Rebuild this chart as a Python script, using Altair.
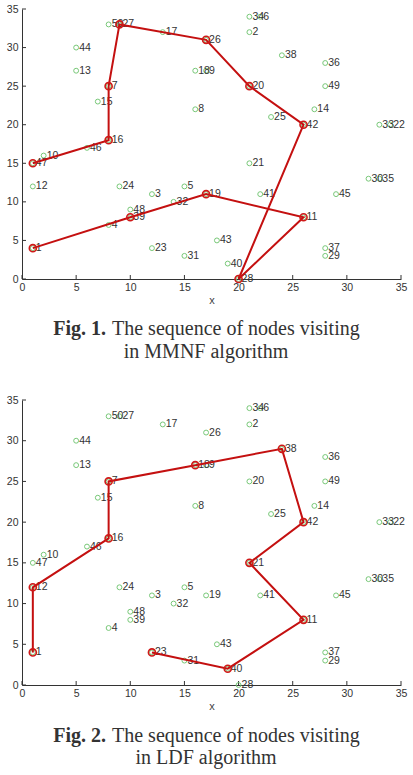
import altair as alt
import pandas as pd

# ---- data ----
node_ids = list(range(1, 51))
node_x = [1, 21, 12, 8, 15, 22, 8, 16, 17, 2,
          26, 1, 5, 27, 7, 8, 13, 16, 17, 21,
          21, 34, 12, 9, 23, 17, 9, 20, 28, 32,
          15, 14, 33, 21, 33, 28, 28, 24, 10, 19,
          22, 26, 18, 5, 29, 6, 1, 10, 28, 8]
node_y = [4, 32, 11, 7, 12, 34, 25, 22, 27, 16,
          8, 12, 27, 22, 23, 18, 32, 27, 11, 25,
          15, 20, 4, 12, 21, 31, 33, 0, 3, 13,
          3, 10, 20, 34, 13, 28, 4, 29, 8, 2,
          11, 20, 5, 30, 11, 17, 15, 9, 25, 33]
path_mmnf = [1, 39, 19, 11, 28, 42, 20, 26, 27, 7, 16, 47]
path_ldf = [1, 12, 16, 7, 18, 38, 42, 21, 11, 40, 23]
tick_values = [0, 5, 10, 15, 20, 25, 30, 35]
cap1_bold = ["Fig. 1."]
cap1_rest = ["The sequence of nodes visiting"]
cap1_line2 = ["in MMNF algorithm"]
cap2_bold = ["Fig. 2."]
cap2_rest = ["The sequence of nodes visiting"]
cap2_line2 = ["in LDF algorithm"]

nodes = pd.DataFrame({"id": node_ids, "x": node_x, "y": node_y,
                      "label": [str(i) for i in node_ids]})
pos = {i: (x, y) for i, x, y in zip(node_ids, node_x, node_y)}


def path_df(p):
    return pd.DataFrame({"order": list(range(len(p))),
                         "x": [pos[i][0] for i in p],
                         "y": [pos[i][1] for i in p]})


W = 379
LABEL_FONT = "Liberation Sans"
SERIF = "Liberation Serif"
GREEN = "#78c878"
RED = "#d01818"
LINE = "#c41010"
CAP = "#333333"


def panel(path, h, bold, rest, line2, cap_y1, cap_y2):
    xs = alt.Scale(domain=[0, 35], nice=False, zero=False)
    ys = alt.Scale(domain=[0, 35], nice=False, zero=False)
    xax = alt.Axis(values=tick_values, ticks=False, grid=False, title="x",
                   titleFontWeight="normal", titleFontSize=11, titleFont=LABEL_FONT,
                   titleColor="#444", titlePadding=2,
                   labelFont=LABEL_FONT, labelFontSize=10.5, labelColor="#333",
                   labelPadding=3, domainColor="#333", labelFlush=False)
    yax = alt.Axis(values=tick_values, ticks=False, grid=False, title=None,
                   labelFont=LABEL_FONT, labelFontSize=10.5, labelColor="#333",
                   labelPadding=4, domainColor="#333", labelFlush=False)
    X = alt.X("x:Q", scale=xs, axis=xax)
    Y = alt.Y("y:Q", scale=ys, axis=yax)

    base = alt.Chart(nodes)
    green = base.mark_point(shape="circle", filled=False, color=GREEN,
                            size=24, strokeWidth=1, opacity=1).encode(x=X, y=Y)
    labels = base.mark_text(align="left", baseline="middle", dx=3,
                            font=LABEL_FONT, fontSize=10.5, color="#333").encode(
        x=X, y=Y, text="label:N")
    pdf = path_df(path)
    line = alt.Chart(pdf).mark_line(color=LINE, strokeWidth=2).encode(
        x=X, y=Y, order="order:Q")
    red = alt.Chart(pdf).mark_point(shape="circle", filled=False, color=RED,
                                    size=50, strokeWidth=1.6, opacity=1).encode(x=X, y=Y)

    tdf_x = pd.DataFrame({"x": tick_values})
    tdf_y = pd.DataFrame({"y": tick_values})
    xt = alt.Chart(tdf_x).mark_rule(color="#333", strokeWidth=1).encode(
        x=X, y=alt.value(h), y2=alt.value(h - 4))
    yt = alt.Chart(tdf_y).mark_rule(color="#333", strokeWidth=1).encode(
        y=Y, x=alt.value(0), x2=alt.value(4))

    cb = alt.Chart(pd.DataFrame({"t": bold})).mark_text(
        align="right", baseline="middle", font=SERIF, fontSize=20,
        fontWeight="bold", color=CAP).encode(
        x=alt.value(84), y=alt.value(cap_y1), text="t:N")
    cr = alt.Chart(pd.DataFrame({"t": rest})).mark_text(
        align="left", baseline="middle", font=SERIF, fontSize=20,
        color=CAP).encode(x=alt.value(90), y=alt.value(cap_y1), text="t:N")
    c2 = alt.Chart(pd.DataFrame({"t": line2})).mark_text(
        align="center", baseline="middle", font=SERIF, fontSize=20,
        color=CAP).encode(x=alt.value(184), y=alt.value(cap_y2), text="t:N")

    return alt.layer(xt, yt, green, labels, line, red, cb, cr, c2).properties(
        width=W, height=h)


p1 = panel(path_mmnf, 270, cap1_bold, cap1_rest, cap1_line2, 320, 343)
p2 = panel(path_ldf, 285, cap2_bold, cap2_rest, cap2_line2, 336, 358)

chart = alt.vconcat(p1, p2, spacing=33).properties(
    padding={"left": 6, "top": 4, "right": 4, "bottom": 4},
    background="white"
).configure_view(stroke=None)

chart.save("out.html", embed_options={"renderer": "svg", "actions": False})
